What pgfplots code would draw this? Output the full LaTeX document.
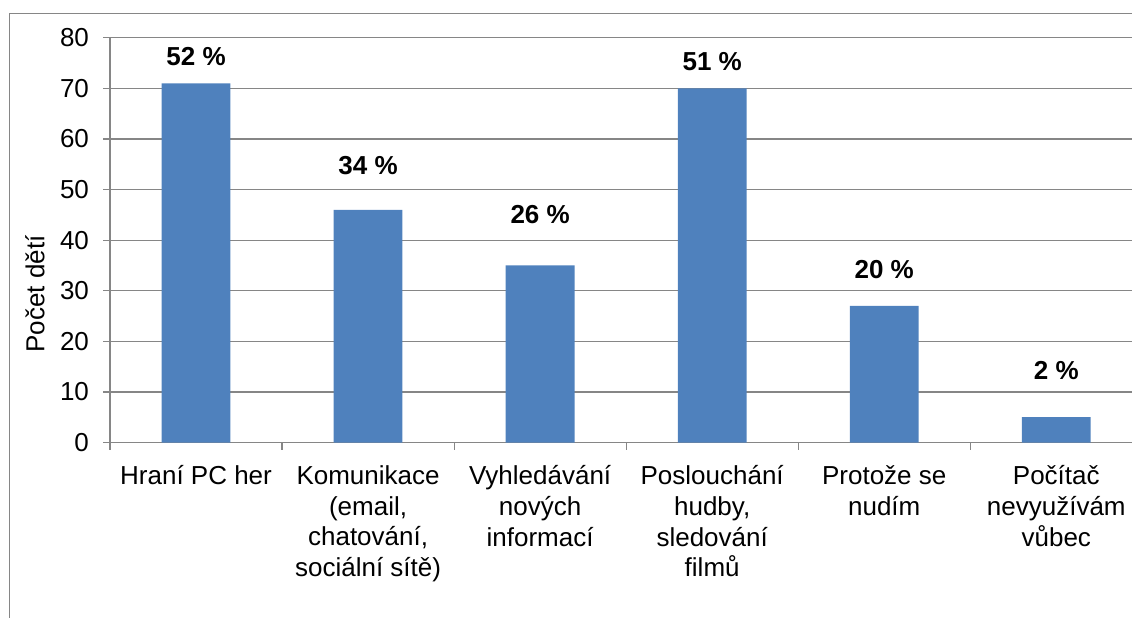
\documentclass[border=0pt]{standalone}
\usepackage{pgfplots}
\pgfplotsset{compat=1.18}
\usepackage{fontspec}
\setmainfont{Liberation Sans}
\definecolor{barblue}{HTML}{4F81BD}
\definecolor{axgray}{HTML}{868686}
\begin{document}
\begin{tikzpicture}
\path[use as bounding box] (0,0) rectangle (566pt,-308.5pt);
\draw[axgray, line width=0.6pt] (4.6pt,-330pt) -- (4.6pt,-6.6pt) -- (600pt,-6.6pt);
\begin{axis}[
  at={(55pt,-221.25pt)}, anchor=south west,
  scale only axis, width=511pt, height=202.4pt,
  xmin=-0.5, xmax=5.44, ymin=0, ymax=80,
  axis x line*=bottom, axis y line*=left,
  axis line style={axgray, line width=0.6pt},
  ytick={0,10,...,80},
  /pgf/number format/assume math mode=true,
  ymajorgrids, grid style={axgray, line width=0.6pt},
  xtick={-0.5,0.5,...,4.5}, xticklabels={},
  extra x ticks={0,1,2,3,4,5},
  extra x tick labels={{Hraní PC her}, {Komunikace\\(email,\\chatování,\\sociální sítě)}, {Vyhledávání\\nových\\informací}, {Poslouchání\\hudby,\\sledování\\filmů}, {Protože se\\nudím}, {Počítač\\nevyužívám\\vůbec}},
  extra x tick style={major tick length=0pt, xticklabel style={yshift=-8pt}},
  tick align=outside, major tick length=3.5pt,
  tick style={axgray, line width=0.6pt},
  every tick label/.append style={font=\fontsize{13}{15.35}\selectfont, text=black},
  xticklabel style={align=center},
  yticklabel style={xshift=-3.5pt},
  ylabel={Počet dětí},
  ylabel style={at={(axis description cs:-0.0734,0.367)}, anchor=center, font=\fontsize{13}{15.35}\selectfont},
]
\addplot[ybar, bar width=0.4, fill=barblue, draw=none] coordinates {(0,71) (1,46) (2,35) (3,70) (4,27) (5,5)};
\addplot[draw=none, nodes near coords, point meta=explicit symbolic,
  every node near coord/.append style={anchor=center, font=\fontsize{13}{15.35}\selectfont\bfseries}]
  coordinates {(0,76.2) [52 \%] (1,54.8) [34 \%] (2,45.0) [26 \%] (3,75.2) [51 \%] (4,34.1) [20 \%] (5,14.3) [2 \%]};
\end{axis}
\end{tikzpicture}
\end{document}
